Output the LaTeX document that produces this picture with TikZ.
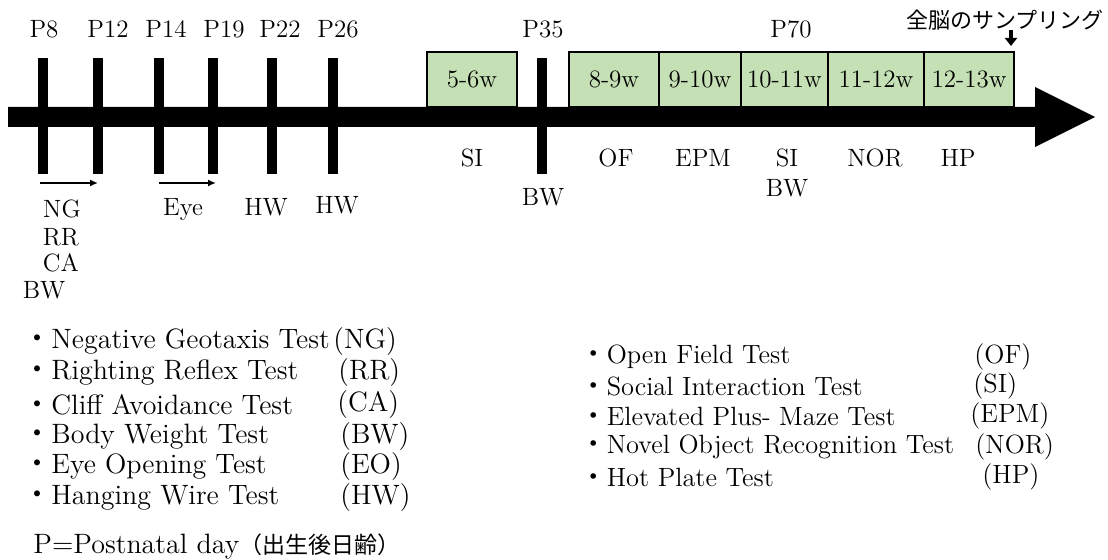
\documentclass[tikz,border=0pt]{standalone}
\usepackage{fontspec}
\newfontfamily\jpfont{Noto Sans CJK JP}
\usetikzlibrary{arrows.meta,positioning}
\definecolor{wkgreen}{HTML}{C5E0B4}
\tikzset{
  daytick/.style={fill=black,inner sep=0pt,outer sep=0pt,minimum width=5pt,minimum height=58pt},
  tl/.style={font=\fontsize{12.5}{14}\selectfont,inner sep=0pt},
  wk/.style={draw,line width=1.2pt,fill=wkgreen,inner sep=0pt,outer sep=0pt,
    minimum height=27.5pt,font=\fontsize{12.5}{14}\selectfont},
  leg/.style={font=\fontsize{14}{16}\selectfont,anchor=west,inner sep=0pt},
  legr/.style={leg,font=\fontsize{13.2}{16}\selectfont},
  span/.style={line width=1pt,-{Latex[length=4pt,width=3.5pt]}},
}
\begin{document}
\begin{tikzpicture}[x=0.5pt,y=-0.5pt]
\useasboundingbox (0,0) rectangle (1108,560);
% weeks
\node[wk,minimum width=45pt,anchor=south west] (w1) at (427,107) {5-6w};
\node[wk,minimum width=45pt,anchor=south west] (w2) at (569,107) {8-9w};
\node[wk,minimum width=41pt,right=0pt of w2] (w3) {9-10w};
\node[wk,minimum width=43.5pt,right=0pt of w3] (w4) {10-11w};
\node[wk,minimum width=48pt,right=0pt of w4] (w5) {11-12w};
\node[wk,minimum width=45pt,right=0pt of w5] (w6) {12-13w};
% time axis
\fill (8,107) -- (1035,107) -- (1035,87) -- (1095,117) -- (1035,147)
  -- (1035,127) -- (8,127) -- cycle;
\foreach \n/\x in {8/43,12/98,14/159,19/213,22/272,26/333,35/542}
  \node[daytick] (t\n) at (\x,116) {};
\foreach \n/\x in {8/44,12/108,14/166,19/224,22/280,26/338,35/543,70/791}
  \node[tl] (p\n) at (\x,29) {P\n};
\draw[span] ([xshift=-1.5pt,yshift=-4.5pt]t8.south) -- ([yshift=-4.5pt]t12.south);
\draw[span] ([yshift=-4.5pt]t14.south) -- ([xshift=1.5pt,yshift=-4.5pt]t19.south);
% tests
\node[tl] (lng) at (62,209) {NG};
\node[tl] (lrr) at (61,237) {RR};
\node[tl] (lca) at (61,263) {CA};
\node[tl] (lbw) at (44,290) {BW};
\node[tl] (leye) at (183,210) {Eye};
\node[tl] (lhw1) at (266,207) {HW};
\node[tl] (lhw2) at (337,205) {HW};
\node[tl] (lsi1) at (472,158) {SI};
\node[tl] (lbw35) at (543,197) {BW};
\node[tl] (lof) at (616,158) {OF};
\node[tl] (lepm) at (703,158) {EPM};
\node[tl] (lsi2) at (787,158) {SI};
\node[tl] (lbw70) at (787,188) {BW};
\node[tl] (lnor) at (875,158) {NOR};
\node[tl] (lhp) at (958,158) {HP};
% sampling
\node[anchor=east,inner sep=0pt,font=\fontsize{11}{13}\jpfont] (samp) at (1104,20) {全脳のサンプリング};
\coordinate (smp) at (1011,30);
\draw[line width=2pt,-{Triangle[length=4pt,width=6pt]}] (smp) -- ([xshift=-1.5pt,yshift=3pt]w6.north east);
% legend
\foreach \t/\a/\ax/\y [count=\i] in {Negative Geotaxis Test/NG/333/342,
    Righting Reflex Test/RR/338/373, Cliff Avoidance Test/CA/337/405,
    Body Weight Test/BW/340/437, Eye Opening Test/EO/340/467,
    Hanging Wire Test/HW/340/498} {
  \node[leg] (ln\i) at (23,\y) {{\jpfont ・}\t};
  \node[leg] (la\i) at (\ax,\y) {(\a)};
}
\foreach \t/\a/\ax/\y [count=\i] in {Open Field Test/OF/974/357,
    Social Interaction Test/SI/973/386, Elevated Plus- Maze Test/EPM/970/416,
    Novel Object Recognition Test/NOR/975/447, Hot Plate Test/HP/982/477} {
  \node[legr] (rn\i) at (580,\y) {{\jpfont ・}\t};
  \node[legr] (ra\i) at (\ax,\y) {(\a)};
}
\node[leg] (pdef) at (33,547) {P=Postnatal day{\fontsize{11.5}{13}\jpfont （出生後日齢）}};
\end{tikzpicture}
\end{document}
